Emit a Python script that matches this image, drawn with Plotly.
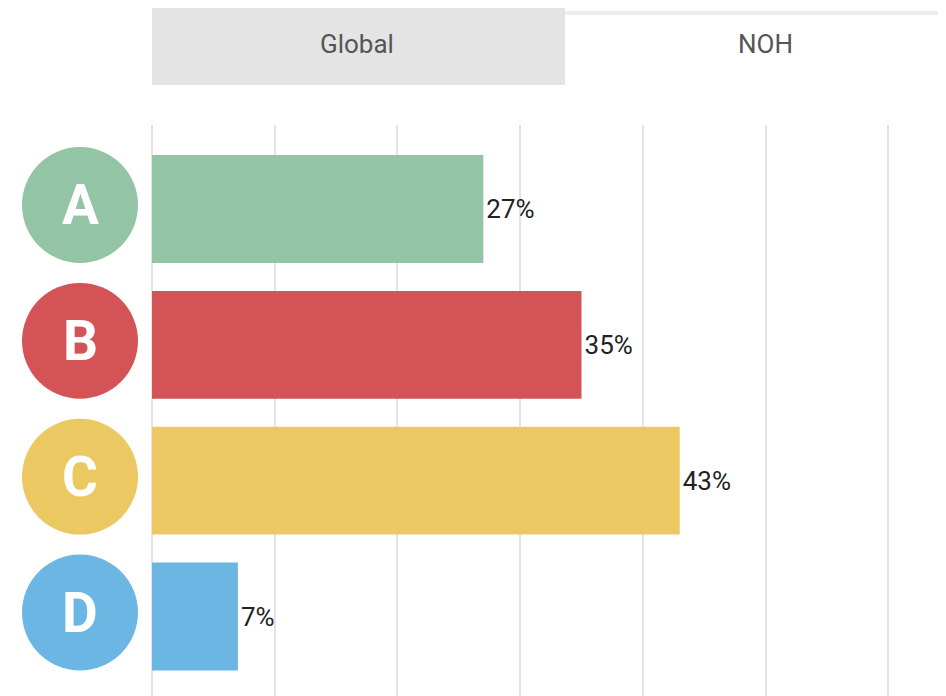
import plotly.graph_objects as go

categories = ["A", "B", "C", "D"]
values = [27, 35, 43, 7]
colors = ["#93c4a6", "#d45357", "#ebc862", "#6cb6e4"]
tab_labels = ["Global", "NOH"]

# page has an 8px body margin, so the figure is drawn 8px smaller and offset
OFF = 8
W, H = 946 - OFF, 696 - OFF


def px_x(x):
    return (x - OFF) / W


def px_y(y):
    return 1 - (y - OFF) / H


ypos = list(range(len(categories)))

fig = go.Figure()
fig.add_trace(go.Bar(
    x=values, y=ypos, orientation="h",
    marker=dict(color=colors, line=dict(width=0)),
    width=0.794,
    text=[f"{v}%" for v in values], textposition="outside",
    textfont=dict(family="Roboto", size=26, color="#222222"),
    cliponaxis=False, hoverinfo="skip",
))

shapes = []
annotations = []
r_px = 58
cx_px = 80
slot_px = 136
dy = -4 / slot_px
for i, (c, col) in enumerate(zip(categories, colors)):
    shapes.append(dict(type="circle", xref="paper", yref="y",
                       x0=px_x(cx_px - r_px), x1=px_x(cx_px + r_px),
                       y0=i + dy - r_px / slot_px, y1=i + dy + r_px / slot_px,
                       fillcolor=col, line=dict(width=0), layer="above"))
    annotations.append(dict(text=f"<b>{c}</b>", xref="paper", yref="y",
                            x=px_x(cx_px), y=i + dy, showarrow=False,
                            font=dict(family="Roboto", size=55, color="white"),
                            xanchor="center", yanchor="middle"))

# tabs
shapes.append(dict(type="rect", xref="paper", yref="paper",
                   x0=px_x(152), x1=px_x(565), y0=px_y(85), y1=px_y(8),
                   fillcolor="#e4e4e4", line=dict(width=0)))
shapes.append(dict(type="rect", xref="paper", yref="paper",
                   x0=px_x(565), x1=1, y0=px_y(15), y1=px_y(11),
                   fillcolor="#ededed", line=dict(width=0)))
annotations.append(dict(text=tab_labels[0], xref="paper", yref="paper",
                        x=px_x(357), y=px_y(44), showarrow=False,
                        font=dict(family="Roboto", size=26, color="#555555"),
                        xanchor="center", yanchor="middle"))
annotations.append(dict(text=tab_labels[1], xref="paper", yref="paper",
                        x=px_x(765), y=px_y(44), showarrow=False,
                        font=dict(family="Roboto", size=26, color="#555555"),
                        xanchor="center", yanchor="middle"))

fig.update_layout(
    width=W, height=H,
    margin=dict(l=0, r=0, t=0, b=0),
    paper_bgcolor="white", plot_bgcolor="white",
    showlegend=False,
    shapes=shapes, annotations=annotations,
    xaxis=dict(domain=[px_x(152), 1], range=[0, 64.7], dtick=10, tick0=0,
               showgrid=True, gridcolor="#e3e3e3", gridwidth=2,
               showticklabels=False, zeroline=True, zerolinecolor="#e3e3e3",
               zerolinewidth=2, showline=False, ticks=""),
    yaxis=dict(domain=[0, px_y(125)], range=[3.585, -0.618],
               showgrid=False, showticklabels=False, zeroline=False,
               showline=False, ticks=""),
)

fig.write_html("out.html")
